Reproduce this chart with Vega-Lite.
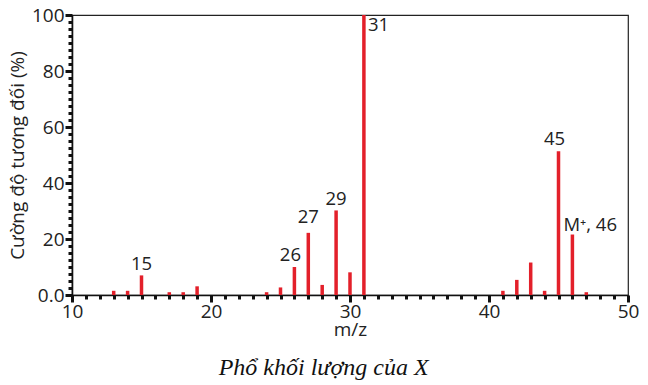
{
  "$schema": "https://vega.github.io/schema/vega-lite/v6.json",
  "width": 556,
  "height": 280,
  "autosize": {"type": "none"},
  "padding": {"left": 72, "top": 15, "right": 20, "bottom": 90},
  "background": "white",
  "config": {
    "view": {"stroke": "#222", "strokeWidth": 1.2},
    "font": "Open Sans",
    "axis": {"domainColor": "#111", "domainWidth": 1.6, "tickColor": "#111", "labelColor": "#222", "titleColor": "#222", "labelFontSize": 19, "titleFontSize": 19, "titleFontWeight": "normal", "grid": false}
  },
  "title": {"text": "Phổ khối lượng của X", "orient": "bottom", "font": "Liberation Serif", "fontStyle": "italic", "fontWeight": "normal", "fontSize": 24, "color": "#111", "frame": "bounds", "anchor": "middle", "offset": 17},
  "data": {"values": [
    {"mz": 13, "intensity": 1.5},
    {"mz": 14, "intensity": 1.5},
    {"mz": 15, "intensity": 7, "label": "15"},
    {"mz": 17, "intensity": 1},
    {"mz": 18, "intensity": 1},
    {"mz": 19, "intensity": 3.1},
    {"mz": 24, "intensity": 1},
    {"mz": 25, "intensity": 2.7},
    {"mz": 26, "intensity": 10, "label": "26"},
    {"mz": 27, "intensity": 22.2, "label": "27"},
    {"mz": 28, "intensity": 3.6},
    {"mz": 29, "intensity": 30.2, "label": "29"},
    {"mz": 30, "intensity": 8.1},
    {"mz": 31, "intensity": 100, "label": "31"},
    {"mz": 41, "intensity": 1.5},
    {"mz": 42, "intensity": 5.4},
    {"mz": 43, "intensity": 11.6},
    {"mz": 44, "intensity": 1.5},
    {"mz": 45, "intensity": 51.3, "label": "45"},
    {"mz": 46, "intensity": 21.6, "label": "M⁺, 46"},
    {"mz": 47, "intensity": 1}
  ]},
  "encoding": {
    "x": {"field": "mz", "type": "quantitative", "scale": {"domain": [10, 50], "nice": false},
      "axis": {"title": "m/z", "titlePadding": -1,
        "values": [10,11,12,13,14,15,16,17,18,19,20,21,22,23,24,25,26,27,28,29,30,31,32,33,34,35,36,37,38,39,40,41,42,43,44,45,46,47,48,49,50],
        "labelExpr": "datum.value % 10 === 0 ? datum.label : ''",
        "tickSize": {"condition": {"test": "datum.value % 10 === 0", "value": 7}, "value": 4},
        "tickWidth": 3, "labelPadding": 0, "labelFlush": false, "labelOverlap": false}},
    "y": {"field": "intensity", "type": "quantitative", "scale": {"domain": [0, 100], "nice": false},
      "axis": {"title": "Cường độ tương đối (%)", "titlePadding": 4,
        "values": [0,2.5,5,7.5,10,12.5,15,17.5,20,22.5,25,27.5,30,32.5,35,37.5,40,42.5,45,47.5,50,52.5,55,57.5,60,62.5,65,67.5,70,72.5,75,77.5,80,82.5,85,87.5,90,92.5,95,97.5,100],
        "labelExpr": "datum.value === 0 ? '0.0' : (datum.value % 20 === 0 ? datum.label : '')",
        "tickSize": {"condition": {"test": "datum.value % 20 === 0", "value": 7}, "value": 4},
        "tickWidth": 3, "labelPadding": 1, "labelFlush": false, "labelOverlap": false}}
  },
  "layer": [
    {"mark": {"type": "rule", "color": "#e3202a", "strokeWidth": 3.5}, "encoding": {"y2": {"datum": 0}}},
    {"transform": [{"filter": "datum.mz === 15 || datum.mz === 29"}],
     "mark": {"type": "text", "baseline": "bottom", "align": "center", "dy": -1, "fontSize": 18.5, "color": "#222"},
     "encoding": {"text": {"field": "label"}}},
    {"transform": [{"filter": "datum.mz === 26 || datum.mz === 45"}],
     "mark": {"type": "text", "baseline": "bottom", "align": "center", "dy": -2, "dx": -4, "fontSize": 18.5, "color": "#222"},
     "encoding": {"text": {"field": "label"}}},
    {"transform": [{"filter": "datum.mz === 27"}],
     "mark": {"type": "text", "baseline": "bottom", "align": "center", "dy": -6, "fontSize": 18.5, "color": "#222"},
     "encoding": {"text": {"field": "label"}}},
    {"transform": [{"filter": "datum.mz === 31"}],
     "mark": {"type": "text", "baseline": "top", "align": "left", "dy": 1, "dx": 4, "fontSize": 18.5, "color": "#222"},
     "encoding": {"text": {"field": "label"}}},
    {"transform": [{"filter": "datum.mz === 46"}],
     "mark": {"type": "text", "baseline": "bottom", "align": "left", "dy": 0, "dx": -9, "fontSize": 18.5, "color": "#222"},
     "encoding": {"text": {"field": "label"}}}
  ]
}
